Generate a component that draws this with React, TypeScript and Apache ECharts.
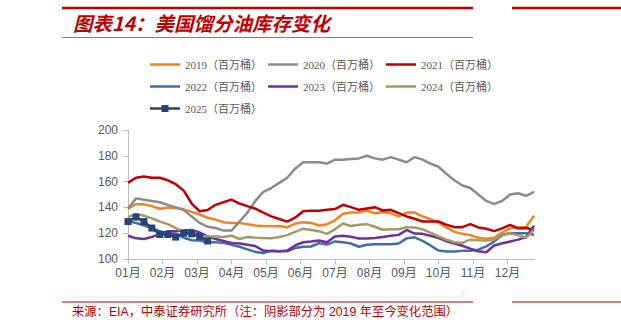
import React, { useEffect, useRef } from "react";
import * as echarts from "echarts";

const monthLabels = ["01月", "02月", "03月", "04月", "05月", "06月", "07月", "08月", "09月", "10月", "11月", "12月"];
const yearNames = ["2019（百万桶）", "2020（百万桶）", "2021（百万桶）", "2022（百万桶）", "2023（百万桶）", "2024（百万桶）", "2025（百万桶）"];
const yearColors = ["#F58220", "#8C8C8C", "#C00000", "#3E6FA8", "#7030A0", "#A39B62", "#27437A"];

const s2019 = [139,142.5,142.5,141,139,140,139.5,138.5,136.5,134.5,132,130.5,128.5,128,128,127,126,125.5,125.3,125.5,124.5,127.5,128.5,128,126,127,130,135,136,136,137.5,135.5,136.5,135.5,133,136,136,133,131,128,124.5,121,119.5,118.5,116.5,115.7,116.5,120.5,124,124.7,124.7,133.5];
const s2020 = [139,147,146,145,144,142,140,138,133,128,125,124,122,122,129,136,145,152,155,159,163,170,175,175,175,174,177,177,177.5,178,180,178,177,179,177,175,179,177,174,171.5,166,161,157,155,150,145,142.5,145,150,151,149,152];
const s2021 = [159,163,164,163,163,161,158,153,143,137,138,142,144,146,143,141,139,136,133,131,129,132,137,137.5,137.4,138.1,138.7,142,140.2,138.1,139.2,140.2,137.6,138.1,135.6,133,131.2,129.1,129.1,129.1,126.5,124.7,124.7,127.1,124.5,123.5,121.6,123.7,126.5,123.7,124,122.7];
const s2022 = [129,128,126,124,121.5,120,119.5,116.5,114.5,114.4,113,113,112.5,111,109.5,107.5,105.5,104.7,106.5,106,106,108.5,109.5,109.7,112.3,111.2,113.6,113,112,109.5,111,111.5,111.5,111.5,112,116,116.8,114,110.5,106.5,105.9,105.9,106.3,106.4,107.2,109.8,113.5,118.5,120,120,120,118.8];
const s2023 = [118,116,115.5,117,119.5,121.5,121.5,122,122.5,120.5,117.5,115.5,114,112.5,112,111,110,106.5,106,106,106.5,110.5,113,113.5,114.3,113,117.5,118,117.3,115.9,115.8,116.2,117,118,118.7,122.5,119.7,119.5,118,116.2,113.8,112,110.3,108,106,105.2,110.5,112.2,113.5,115,117,125.8];
const s2024 = [132.5,135,133.5,131.5,129,127,124,121,119.5,118,117.5,117.5,117,118,115.5,117,116.5,116.2,116,117,118.5,121,123.5,122.5,121.5,119.5,123,127.5,125.5,126.5,127,125,122.7,123,123,124.7,124.5,123,120.5,117.5,115,113,112.5,115,114.5,114.4,115,119,120,118.5,116.5,122.5];
const s2025 = [129,132.5,129,124,119,119,117,120,119.5,117.5,114];

const allYears = [s2019, s2020, s2021, s2022, s2023, s2024, s2025];
const WEEKS = 52;
const weekX = (i: number) => (i * 12) / WEEKS;

export default function App() {
  const ref = useRef<HTMLDivElement>(null);
  useEffect(() => {
    if (!ref.current) return;
    const chart = echarts.init(ref.current, null, { renderer: "svg" });

    const minArr: number[] = [];
    const maxArr: number[] = [];
    for (let i = 0; i < WEEKS; i++) {
      const vals = allYears.map((s) => s[i]).filter((v) => v !== undefined);
      minArr.push(Math.min(...vals));
      maxArr.push(Math.max(...vals));
    }

    const bandLow = minArr.map((v, i) => [weekX(i), v]);
    const bandHigh = maxArr.map((v, i) => [weekX(i), v - minArr[i]]);

    const lineSeries = allYears.map((s, k) => ({
      name: yearNames[k],
      type: "line",
      data: s.map((v, i) => [weekX(i), v]),
      symbol: k === 6 ? "rect" : "none",
      symbolSize: 7,
      showSymbol: k === 6,
      lineStyle: { width: 2.5, color: yearColors[k] },
      itemStyle: { color: yearColors[k] },
      z: 3 + k,
    }));

    const legendText = {
      fontFamily: "'Liberation Serif', 'DejaVu Serif', 'Noto Sans CJK SC', serif",
      fontSize: 11,
      color: "#595959",
    };
    const colLeft = [145, 263, 381];
    const rowCenter = [61, 83, 105];
    const legends = yearNames.map((name, k) => {
      const isMarker = k === 6;
      return {
        data: [name],
        left: colLeft[k % 3],
        top: rowCenter[Math.floor(k / 3)] - 7,
        itemWidth: 30,
        itemHeight: isMarker ? 7 : 2.5,
        icon: isMarker
          ? "path://M0,2.25 L11.5,2.25 L11.5,0 L18.5,0 L18.5,2.25 L30,2.25 L30,4.75 L18.5,4.75 L18.5,7 L11.5,7 L11.5,4.75 L0,4.75 Z"
          : "rect",
        itemGap: 4,
        textStyle: legendText,
        selectedMode: false,
      };
    });

    chart.setOption({
      animation: false,
      backgroundColor: "#ffffff",
      legend: legends,
      grid: { left: 128, right: 87, top: 130, bottom: 74 },
      xAxis: {
        type: "value",
        min: 0,
        max: weekX(WEEKS - 1),
        axisLine: { show: true, lineStyle: { color: "#BFBFBF", width: 1 } },
        axisTick: {
          show: true,
          length: 5,
          lineStyle: { color: "#BFBFBF" },
          customValues: monthLabels.map((_, i) => i),
        },
        axisLabel: {
          customValues: monthLabels.map((_, i) => i),
          formatter: (v: number) => monthLabels[Math.round(v)] ?? "",
          fontFamily: "'Liberation Sans', Arial, 'Noto Sans CJK SC', sans-serif",
          fontSize: 12,
          color: "#595959",
          margin: 8,
        },
        splitLine: { show: false },
      },
      yAxis: {
        type: "value",
        min: 100,
        max: 200,
        interval: 20,
        axisLine: { show: true, lineStyle: { color: "#BFBFBF", width: 1 } },
        axisTick: { show: true, length: 5, lineStyle: { color: "#BFBFBF" } },
        axisLabel: {
          fontFamily: "'Liberation Sans', Arial, sans-serif",
          fontSize: 12,
          color: "#595959",
          margin: 10,
        },
        splitLine: { show: false },
      },
      series: [
        {
          name: "band-low",
          type: "line",
          stack: "band",
          data: bandLow,
          symbol: "none",
          lineStyle: { width: 0, opacity: 0 },
          areaStyle: { opacity: 0 },
          silent: true,
          z: 1,
        },
        {
          name: "band-high",
          type: "line",
          stack: "band",
          data: bandHigh,
          symbol: "none",
          lineStyle: { width: 0, opacity: 0 },
          areaStyle: { color: "#D9D9D9", opacity: 1 },
          silent: true,
          z: 1,
        },
        ...lineSeries,
      ],
      graphic: [
        { type: "line", shape: { x1: 62, y1: 8, x2: 473, y2: 8 }, style: { stroke: "#C00000", lineWidth: 2.5 } },
        { type: "line", shape: { x1: 512, y1: 8, x2: 621, y2: 8 }, style: { stroke: "#C00000", lineWidth: 2.5 } },
        {
          type: "text",
          left: 73,
          top: 13,
          style: {
            text: "图表14：美国馏分油库存变化",
            fill: "#C00000",
            fontSize: 19.5,
            fontWeight: "bold",
            fontStyle: "italic",
            fontFamily: "'Noto Sans CJK SC', sans-serif",
          },
        },
        { type: "line", shape: { x1: 62, y1: 37.5, x2: 473, y2: 37.5 }, style: { stroke: "#D86060", lineWidth: 1.2 } },
        { type: "line", shape: { x1: 72, y1: 297, x2: 463, y2: 297 }, style: { stroke: "#EEEEEE", lineWidth: 1 } },
        { type: "line", shape: { x1: 463, y1: 290, x2: 463, y2: 297 }, style: { stroke: "#DDDDDD", lineWidth: 1 } },
        { type: "line", shape: { x1: 62, y1: 302, x2: 473, y2: 302 }, style: { stroke: "#C00000", lineWidth: 1 } },
        { type: "line", shape: { x1: 512, y1: 302, x2: 621, y2: 302 }, style: { stroke: "#C00000", lineWidth: 1 } },
        {
          type: "text",
          left: 72,
          top: 306,
          style: {
            text: "来源：EIA，中泰证券研究所（注：阴影部分为 2019 年至今变化范围）",
            fill: "#C00000",
            fontSize: 12.3,
            fontFamily: "'Liberation Sans', 'Noto Sans CJK SC', sans-serif",
          },
        },
      ],
    });
    return () => chart.dispose();
  }, []);

  return (
    <div
      ref={ref}
      style={{ position: "fixed", left: 0, top: 0, width: 621, height: 333 }}
    />
  );
}
